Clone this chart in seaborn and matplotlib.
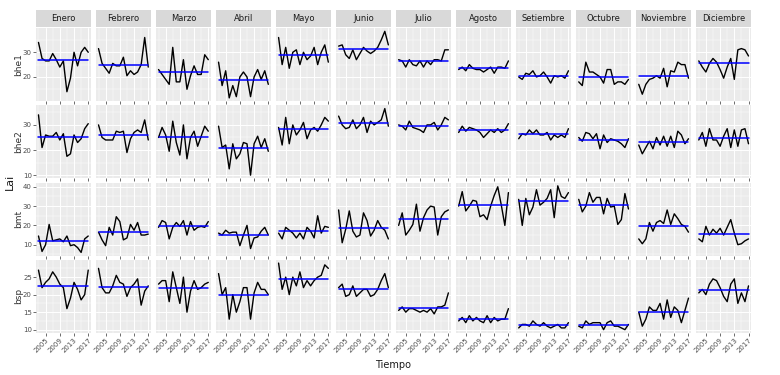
import numpy as np
import pandas as pd
import matplotlib
matplotlib.use('Agg')
import matplotlib.pyplot as plt
import seaborn as sns
from matplotlib.patches import Rectangle
from matplotlib.ticker import FixedLocator, MultipleLocator

#Datos (Lai por mes, 2003-2017)
anios = list(range(2003, 2018))
meses = ['Enero', 'Febrero', 'Marzo', 'Abril', 'Mayo', 'Junio', 'Julio',
         'Agosto', 'Setiembre', 'Octubre', 'Noviembre', 'Diciembre']
variables = ['bhe1', 'bhe2', 'bmt', 'bsp']

bhe1 = [
    [34, 27.5, 26.5, 26.5, 29.5, 27, 24, 26.5, 14, 19.5, 30, 24.5, 30, 32, 30],
    [31.5, 25.5, 23.5, 21.5, 25.5, 24.5, 24.5, 28, 20.5, 22.5, 21, 22, 25, 36, 24],
    [23, 21, 19, 17, 32, 18, 18, 27, 15, 20.5, 24.5, 21, 21, 29, 27],
    [26, 16.5, 22.5, 11.5, 16.5, 12, 20, 22, 20, 12, 20, 23, 19, 22.5, 17],
    [36, 25, 32, 23.5, 30, 31, 25, 30, 27, 28.5, 32, 25, 30, 33, 26],
    [32.5, 33, 29, 27.5, 31, 27, 29.5, 32, 30.5, 29.5, 30.5, 32, 35, 38.5, 33],
    [27, 26.5, 24, 27, 25, 24.5, 26.5, 24, 26.5, 25, 27, 27, 26.5, 31, 31],
    [23, 24, 22.5, 25, 23.5, 23, 23, 22, 23, 24, 21.5, 24, 24, 23.5, 26.5],
    [20, 19, 21.5, 21, 22.5, 20, 20.5, 22, 20, 17.5, 20.5, 20, 20.5, 19.5, 22.5],
    [18, 16.5, 26, 22, 22, 21, 20, 17.5, 23, 23, 17, 18, 18, 17, 19],
    [17, 13, 17, 19, 19.5, 20.5, 19.5, 23.5, 16, 22.5, 22, 26, 25, 25, 19.5],
    [26.5, 24, 22, 25.5, 27.5, 26, 23, 19.5, 24, 27.5, 19, 31, 31.5, 31, 28.5],
]
bhe2 = [
    [34, 21, 26, 25.5, 25.5, 27, 24, 26.5, 17.5, 18.5, 26, 23, 24.5, 28.5, 30.5],
    [30, 25, 24, 24, 24, 27.5, 27, 27.5, 19, 24.5, 27, 28, 27, 32, 24],
    [25, 29, 26, 19.5, 31.5, 23, 18, 30, 16.5, 25, 27.5, 21.5, 25.5, 29.5, 27.5],
    [29.5, 21, 22, 12.5, 22.5, 16.5, 18.5, 23, 22.5, 10, 22.5, 25.5, 21, 24.5, 19.5],
    [29, 22, 33, 22.5, 30, 26, 28, 31, 24.5, 28, 29, 27.5, 30, 33, 31.5],
    [33.5, 30, 28.5, 29, 32, 28.5, 30, 33, 27, 31.5, 30, 31, 32, 36.5, 29.5],
    [30, 29.5, 28, 31.5, 29, 28.5, 28, 27, 30, 30, 31, 28, 30, 33, 32],
    [27, 29.5, 27.5, 29, 28.5, 28, 27, 25, 26.5, 28, 27, 28.5, 27, 28, 30.5],
    [24.5, 26.5, 26, 28, 26.5, 28, 26, 26, 27, 24, 26, 25, 26, 25, 28.5],
    [25, 23.5, 27, 26.5, 24.5, 26.5, 20.5, 26, 23, 24.5, 24, 23.5, 22.5, 21, 24.5],
    [22, 18.5, 21, 23.5, 20.5, 25, 22, 25.5, 21.5, 25.5, 21, 27.5, 26, 22.5, 24.5],
    [24, 27, 21.5, 28.5, 24, 24, 21.5, 25.5, 28.5, 21, 28, 21.5, 28, 28.5, 22.5],
]
bmt = [
    [14.5, 6.5, 10, 20.5, 12, 12.5, 13, 11.5, 14.5, 9.5, 10, 8.5, 6, 13, 14.5],
    [16.5, 12.5, 9.5, 19, 15, 24.5, 22, 12.5, 13.5, 20.5, 17.5, 21.5, 15, 15, 15.5],
    [19, 22.5, 21.5, 13, 19, 21.5, 19.5, 22.5, 15, 22, 17.5, 19, 19.5, 19, 22],
    [16, 15, 17.5, 16, 16.5, 16.5, 9.5, 15, 20, 8, 13.5, 14, 17, 19, 15],
    [16, 13, 19, 17.5, 16, 13.5, 16, 13, 19, 17, 13.5, 25, 16, 19.5, 19],
    [28, 11, 18, 27.5, 17, 14, 15, 26.5, 22.5, 14.5, 17.5, 22.5, 19, 17.5, 13],
    [20, 26.5, 15, 17.5, 20.5, 31, 17, 24, 28, 30, 29.5, 15, 24.5, 27, 28],
    [30, 37.5, 27.5, 30, 33, 32.5, 24.5, 25.5, 23, 30, 35.5, 40, 30.5, 20, 37],
    [33.5, 20, 34, 25.5, 29.5, 38.5, 30.5, 32, 34, 38.5, 24, 40.5, 35, 34, 37],
    [33.5, 27, 30, 37, 32, 34.5, 34.5, 26, 34, 29.5, 30, 20.5, 23, 36.5, 28.5],
    [13, 10.5, 13, 21.5, 17, 21.5, 22.5, 21, 28, 20.5, 26, 23.5, 20.5, 19.5, 16.5],
    [13, 11.5, 19.5, 15, 18, 16, 18.5, 15, 19, 23, 16, 10, 10.5, 12, 13],
]
bsp = [
    [27, 22, 23.5, 24.5, 26.5, 25, 23, 22, 16, 19, 23.5, 21.5, 18.5, 20, 27],
    [27.5, 22, 20.5, 20.5, 22.5, 25.5, 23.5, 23, 19.5, 22, 23, 24.5, 17, 21, 22.5],
    [23, 24, 24, 18, 26.5, 22, 17.5, 25, 15, 21, 24, 21.5, 22, 23, 23.5],
    [26, 20, 22, 13, 20, 15, 18, 22, 22, 13, 20.5, 23.5, 21.5, 21.5, 20],
    [29, 21.5, 25, 20, 25, 22.5, 26.5, 22, 24, 22.5, 24, 25, 25.5, 28.5, 27.5],
    [22, 23, 19.5, 20, 22.5, 19.5, 20.5, 21.5, 21.5, 19.5, 20, 21.5, 24, 26, 22],
    [15.5, 16.5, 15, 16, 16, 15.5, 15, 15.5, 15, 16, 14.5, 16.5, 16.5, 17, 20.5],
    [12.5, 13.5, 12, 14, 12.5, 13.5, 12.5, 12, 14, 12, 13.5, 12.5, 13, 13, 16],
    [10.5, 11.5, 11.5, 11, 12.5, 11.5, 11, 12, 11, 10.5, 11, 11.5, 10.5, 10.5, 12],
    [11, 10.5, 12.5, 11.5, 12, 12, 12, 10, 12, 12.5, 11, 11, 10.5, 10, 11.5],
    [15, 11, 13, 16.5, 15.5, 15.5, 17.5, 13, 18.5, 13.5, 16.5, 15.5, 12, 15.5, 19],
    [20.5, 21.5, 20, 23, 24.5, 24, 22, 19.5, 18, 23, 24.5, 17.5, 20.5, 18, 22.5],
]

#Tabla larga
Series = {'bhe1': bhe1, 'bhe2': bhe2, 'bmt': bmt, 'bsp': bsp}
filas = []
for var in variables:
    for mes, valores in zip(meses, Series[var]):
        for anio, v in zip(anios, valores):
            filas.append((var, mes, anio, v))
df = pd.DataFrame(filas, columns=['var', 'mes', 'anio', 'valor'])

#Estilo tipo ggplot
sns.set_theme(style='darkgrid', rc={'axes.facecolor': '#EBEBEB',
                                    'grid.color': 'white',
                                    'axes.edgecolor': '#EBEBEB'})
plt.rcParams['font.family'] = ['Liberation Sans Narrow', 'DejaVu Sans']

fig, axes = plt.subplots(4, 12, figsize=(7.8, 3.75), dpi=100, sharex=True, sharey='row')
fig.patch.set_facecolor('white')
fig.subplots_adjust(left=36/780, right=751/780, top=1-28/375, bottom=1-333/375,
                    wspace=0.097, hspace=0.055)

for i, var in enumerate(variables):
    for j, mes in enumerate(meses):
        ax = axes[i, j]
        d = df[(df['var'] == var) & (df['mes'] == mes)]
        sns.lineplot(data=d, x='anio', y='valor', color='black', linewidth=1.0, ax=ax)
        #linea de la media
        m = d['valor'].mean()
        ax.plot([d['anio'].min(), d['anio'].max()], [m, m], color='#0000FF', linewidth=1.1)
        ax.set_xlabel('')
        ax.set_ylabel('')
        ax.xaxis.set_major_locator(FixedLocator([2005, 2009, 2013, 2017]))
        ax.xaxis.set_minor_locator(FixedLocator([2003, 2007, 2011, 2015]))
        if var == 'bsp':
            ax.yaxis.set_major_locator(MultipleLocator(5))
            ax.yaxis.set_minor_locator(MultipleLocator(2.5))
        else:
            ax.yaxis.set_major_locator(MultipleLocator(10))
            ax.yaxis.set_minor_locator(MultipleLocator(5))
        ax.grid(which='major', color='white', linewidth=0.7)
        ax.grid(which='minor', color='white', linewidth=0.35)
        for s in ax.spines.values():
            s.set_visible(False)
        ax.tick_params(which='major', length=2, width=0.5, color='#333333',
                       labelsize=5, labelcolor='#4D4D4D', pad=1,
                       bottom=True, left=(j == 0))
        ax.tick_params(which='minor', length=0)
        if i == 0:
            alto = 17 / 73.25
            ax.add_patch(Rectangle((0, 1.012), 1, alto, transform=ax.transAxes,
                                   clip_on=False, facecolor='#D9D9D9', edgecolor='none'))
            ax.text(0.5, 1.012 + alto/2, mes, transform=ax.transAxes, ha='center', va='center',
                    fontsize=6, color='#1A1A1A')
        if i == 3:
            for lab in ax.get_xticklabels():
                lab.set_rotation(45)
                lab.set_ha('right')
                lab.set_rotation_mode('anchor')

#Etiquetas de fila
for i, var in enumerate(variables):
    pos = axes[i, 0].get_position()
    fig.text(19/780, (pos.y0 + pos.y1)/2, var, rotation=90, ha='center', va='center',
             fontsize=6.5, color='#333333')

fig.text(10/780, 1-182/375, 'Lai', rotation=90, ha='center', va='center', fontsize=8, color='#1A1A1A')
fig.text(393/780, 1-365/375, 'Tiempo', ha='center', va='center', fontsize=7, color='#1A1A1A')

fig.savefig('out.png', dpi=100)
